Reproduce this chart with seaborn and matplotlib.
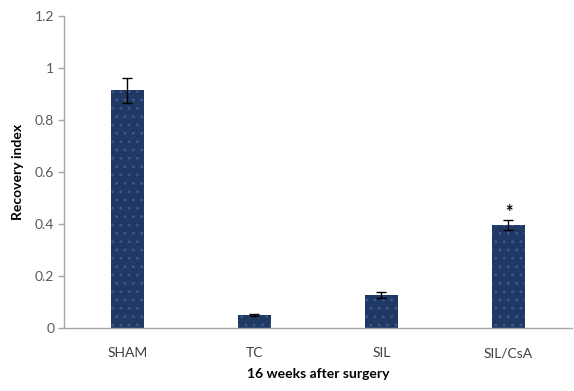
import pandas as pd
import matplotlib
matplotlib.use("Agg")
import matplotlib.pyplot as plt
import seaborn as sns

# Data
groups = ["SHAM", "TC", "SIL", "SIL/CsA"]
recovery = [0.915, 0.05, 0.127, 0.397]
sem = [0.048, 0.003, 0.01, 0.02]
marks = ["", "", "", "*"]

sns.set_theme(style="white")
plt.rcParams['font.family'] = ['Lato', 'DejaVu Sans']
plt.rcParams['hatch.color'] = '#3a5a8c'
plt.rcParams['hatch.linewidth'] = 0.8

df = pd.DataFrame({"group": groups, "recovery": recovery})

fig = plt.figure(figsize=(5.74, 3.91), dpi=100)
ax = fig.add_axes([0.1115, 0.161, 0.885, 0.798])

sns.barplot(data=df, x="group", y="recovery", order=groups, color="#1f3864",
            width=0.26, saturation=1, errorbar=None, ax=ax,
            hatch="..", edgecolor="#3a5a8c", linewidth=0)

ax.errorbar(range(len(groups)), recovery, yerr=sem, fmt="none",
            ecolor="black", elinewidth=1, capsize=3.5, capthick=1)

# significance marker just above the error bar
for i, (v, e, m) in enumerate(zip(recovery, sem, marks)):
    if m:
        ax.text(i, v + e + 0.027, m, ha="center", va="center", fontsize=13,
                fontweight="bold", color="black")

ax.set_ylim(0, 1.2)
ax.set_yticks([0, 0.2, 0.4, 0.6, 0.8, 1.0, 1.2])
ax.set_yticklabels(["0", "0.2", "0.4", "0.6", "0.8", "1", "1.2"])
ax.set_xlim(-0.5, 3.5)

for side in ["top", "right"]:
    ax.spines[side].set_visible(False)
for side in ["left", "bottom"]:
    ax.spines[side].set_color("#a6a6a6")
    ax.spines[side].set_linewidth(1)

ax.tick_params(axis="y", left=True, length=4, width=1, color="#a6a6a6",
               labelsize=10, labelcolor="#595959", pad=3)
ax.tick_params(axis="x", bottom=False, length=0, labelsize=10,
               labelcolor="#404040", pad=14)

ax.set_xlabel("16 weeks after surgery", fontsize=10, fontweight="bold",
              color="black", labelpad=6)
ax.set_ylabel("Recovery index", fontsize=10, fontweight="bold",
              color="black", labelpad=8)

fig.savefig("out.png", dpi=100)
